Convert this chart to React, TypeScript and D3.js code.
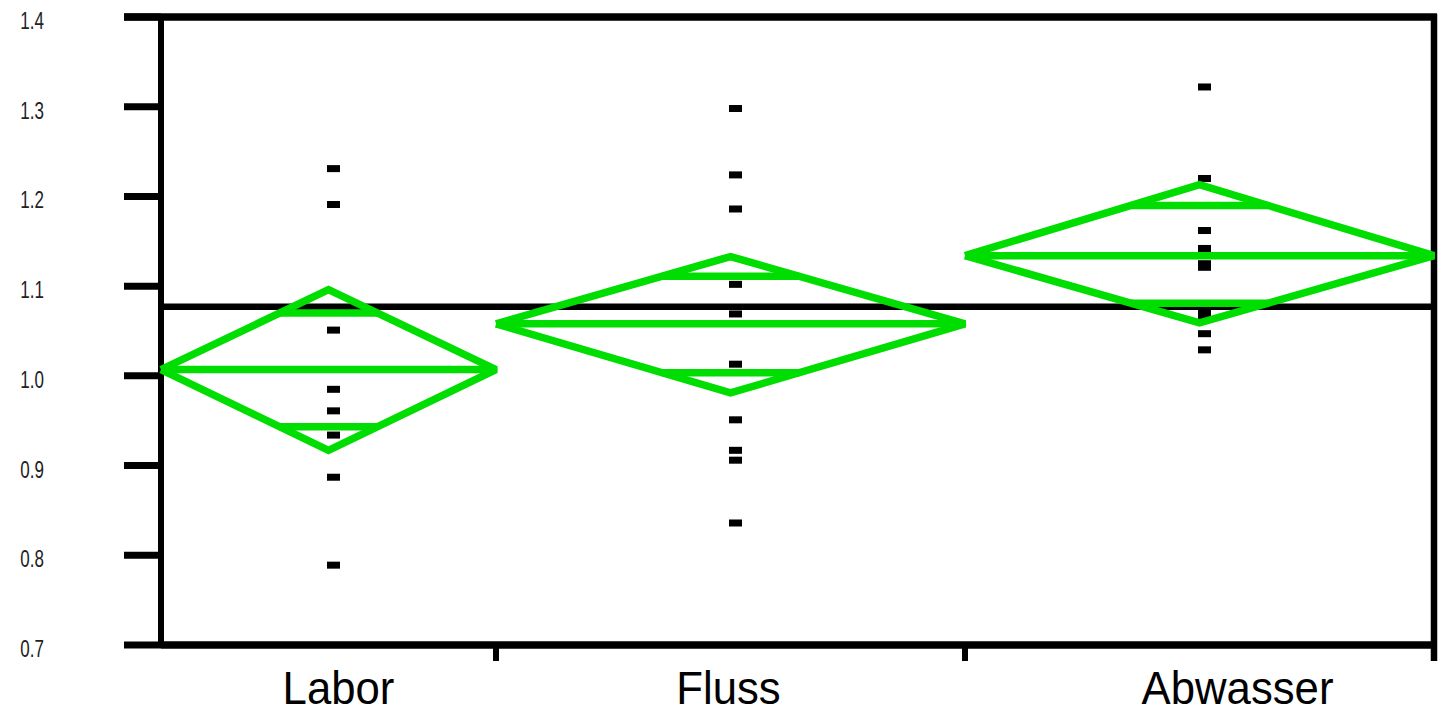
import React from "react";
import * as d3 from "d3";

// ---- data ----
const categories = ["Labor", "Fluss", "Abwasser"];
const groupSizes = [10, 14, 14];
const groupMeans = [1.007, 1.058, 1.134];
const ciUpper = [1.096, 1.133, 1.213];
const ciLower = [0.917, 0.981, 1.059];
const grandMean = 1.077;

const laborValues = [1.231, 1.191, 1.051, 0.985, 0.961, 0.934, 0.887, 0.789];
const flussValues = [1.298, 1.224, 1.186, 1.102, 1.069, 1.013, 0.951, 0.917, 0.906, 0.836];
const abwasserValues = [1.322, 1.22, 1.162, 1.142, 1.138, 1.125, 1.121, 1.074, 1.067, 1.047, 1.029];
const groupValues = [laborValues, flussValues, abwasserValues];

const yTicks = [0.7, 0.8, 0.9, 1.0, 1.1, 1.2, 1.3, 1.4];

// ---- layout ----
const W = 1438;
const H = 715;
const left = 161;
const right = 1434;
const top = 17;
const bottom = 645;
const labelShift = [10, -2, 38];
const pointShift = 5;
const GREEN = "#00dd00";

export default function App() {
  const y = d3.scaleLinear().domain([0.7, 1.4]).range([bottom, top]);
  const total = d3.sum(groupSizes);
  const x = d3.scaleLinear().domain([0, total]).range([left, right]);
  const cum = [0, ...d3.cumsum(groupSizes)];

  const groups = categories.map((c, i) => {
    const x0 = x(cum[i]);
    const x1 = x(cum[i + 1]);
    const cx = (x0 + x1) / 2;
    const half = (x1 - x0) / 2;
    const m = groupMeans[i];
    const up = ciUpper[i];
    const lo = ciLower[i];
    const k = Math.SQRT1_2;
    const ovUp = m + (up - m) * k;
    const ovLo = m - (m - lo) * k;
    return { c, i, x0, x1, cx, half, m, up, lo, ovUp, ovLo, k };
  });

  const diamond = d3.line<[number, number]>();

  return (
    <svg
      width={W}
      height={H}
      style={{ position: "absolute", left: 0, top: 0, background: "#fff" }}
    >
      {/* y tick labels */}
      {yTicks.map((t) => (
        <text
          key={"yl" + t}
          transform={`translate(44,${y(t) + 12}) scale(0.74,1)`}
          textAnchor="end"
          fontFamily="Liberation Sans, Arial, sans-serif"
          fontSize={23}
          fill="#222"
        >
          {t.toFixed(1)}
        </text>
      ))}
      {/* y ticks */}
      {yTicks.map((t) => (
        <line
          key={"yt" + t}
          x1={124}
          x2={left}
          y1={y(t)}
          y2={y(t)}
          stroke="#000"
          strokeWidth={7}
        />
      ))}

      {/* frame */}
      <line x1={124} x2={right + 3} y1={top} y2={top} stroke="#000" strokeWidth={7.5} />
      <line x1={left} x2={right} y1={bottom} y2={bottom} stroke="#000" strokeWidth={7.5} />
      <line x1={left} x2={left} y1={top} y2={bottom} stroke="#000" strokeWidth={6} />
      <line x1={right} x2={right} y1={top - 3} y2={661} stroke="#000" strokeWidth={6.5} />

      {/* x ticks at group boundaries */}
      {groups.slice(0, -1).map((g) => (
        <line
          key={"xt" + g.i}
          x1={g.x1}
          x2={g.x1}
          y1={bottom}
          y2={661}
          stroke="#000"
          strokeWidth={6}
        />
      ))}

      {/* data points */}
      {groups.map((g) =>
        groupValues[g.i].map((v, j) => (
          <rect
            key={`p${g.i}-${j}`}
            x={g.cx + pointShift - 6.5}
            y={y(v) - 3.5}
            width={13}
            height={7}
            fill="#000"
          />
        ))
      )}

      {/* grand mean line */}
      <line
        x1={left}
        x2={right}
        y1={y(grandMean)}
        y2={y(grandMean)}
        stroke="#000"
        strokeWidth={6.5}
      />

      {/* mean diamonds */}
      {groups.map((g) => {
        const pts: [number, number][] = [
          [g.x0, y(g.m)],
          [g.cx, y(g.up)],
          [g.x1, y(g.m)],
          [g.cx, y(g.lo)],
          [g.x0, y(g.m)],
        ];
        const ovHalf = g.half * (1 - g.k);
        return (
          <g key={"d" + g.i} stroke={GREEN} strokeWidth={7.5} fill="none">
            <path d={diamond(pts) || ""} strokeLinejoin="miter" strokeMiterlimit={2} />
            <line x1={g.x0} x2={g.x1} y1={y(g.m)} y2={y(g.m)} />
            <line x1={g.cx - ovHalf} x2={g.cx + ovHalf} y1={y(g.ovUp)} y2={y(g.ovUp)} />
            <line x1={g.cx - ovHalf} x2={g.cx + ovHalf} y1={y(g.ovLo)} y2={y(g.ovLo)} />
          </g>
        );
      })}

      {/* category labels */}
      {groups.map((g) => (
        <text
          key={"xl" + g.i}
          transform={`translate(${g.cx + labelShift[g.i]},704) scale(0.93,1)`}
          textAnchor="middle"
          fontFamily="Liberation Sans, Arial, sans-serif"
          fontSize={47}
          fill="#000"
        >
          {g.c}
        </text>
      ))}
    </svg>
  );
}
